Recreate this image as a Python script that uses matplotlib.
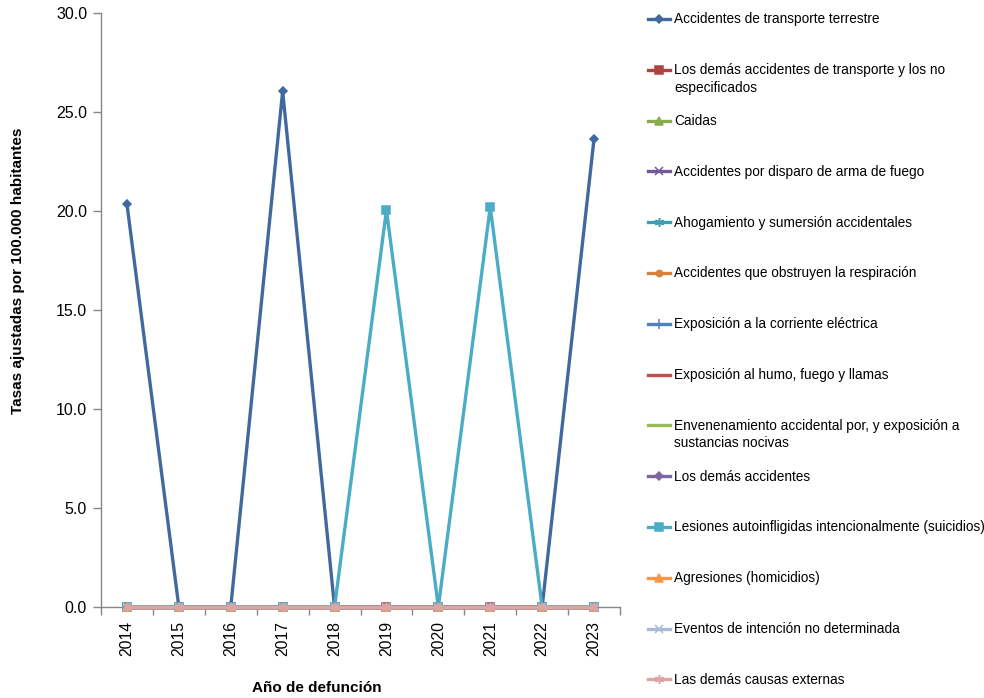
import matplotlib.pyplot as plt
from matplotlib.lines import Line2D
import numpy as np

# Data
years = ['2014', '2015', '2016', '2017', '2018', '2019', '2020', '2021', '2022', '2023']

series_names = [
    'Accidentes de transporte terrestre',
    'Los demás accidentes de transporte y los no\nespecificados',
    'Caidas',
    'Accidentes por disparo de arma de fuego',
    'Ahogamiento y sumersión accidentales',
    'Accidentes que obstruyen la respiración',
    'Exposición a la corriente eléctrica',
    'Exposición al humo, fuego y llamas',
    'Envenenamiento accidental por, y exposición a\nsustancias nocivas',
    'Los demás accidentes',
    'Lesiones autoinfligidas intencionalmente (suicidios)',
    'Agresiones (homicidios)',
    'Eventos de intención no determinada',
    'Las demás causas externas',
]

transporte_terrestre = [20.35, 0, 0, 26.05, 0, 0, 0, 0, 0, 23.65]
otros_transporte = [0, 0, 0, 0, 0, 0, 0, 0, 0, 0]
caidas = [0, 0, 0, 0, 0, 0, 0, 0, 0, 0]
disparo = [0, 0, 0, 0, 0, 0, 0, 0, 0, 0]
ahogamiento = [0, 0, 0, 0, 0, 0, 0, 0, 0, 0]
respiracion = [0, 0, 0, 0, 0, 0, 0, 0, 0, 0]
electrica = [0, 0, 0, 0, 0, 0, 0, 0, 0, 0]
humo = [0, 0, 0, 0, 0, 0, 0, 0, 0, 0]
envenenamiento = [0, 0, 0, 0, 0, 0, 0, 0, 0, 0]
demas_accidentes = [0, 0, 0, 0, 0, 0, 0, 0, 0, 0]
suicidios = [0, 0, 0, 0, 0, 20.05, 0, 20.2, 0, 0]
homicidios = [0, 0, 0, 0, 0, 0, 0, 0, 0, 0]
no_determinada = [0, 0, 0, 0, 0, 0, 0, 0, 0, 0]
demas_causas = [0, 0, 0, 0, 0, 0, 0, 0, 0, 0]

values = [transporte_terrestre, otros_transporte, caidas, disparo, ahogamiento,
          respiracion, electrica, humo, envenenamiento, demas_accidentes,
          suicidios, homicidios, no_determinada, demas_causas]

# Styles
asterisk = (6, 2, 0)
colors = ['#41699F', '#AC4542', '#8CAA4E', '#74599A', '#3E9DB5', '#D9813A',
          '#4F81BD', '#C0504D', '#9BBB59', '#8064A2', '#4BACC6', '#F79646',
          '#A9BAD9', '#DCA5A4']
markers = ['D', 's', '^', 'x', asterisk, 'o', '+', None, None, 'D', 's', '^',
           'x', asterisk]
msizes = [4, 5.5, 5.5, 5.5, 6.5, 4.5, 6.5, 0, 0, 4, 5.5, 5.5, 5.5, 6.5]

font = 'Liberation Sans'

fig = plt.figure(figsize=(9.84, 6.98), dpi=100)
ax = fig.add_axes([101 / 984, 1 - 607 / 698, 519 / 984, 594 / 698])

x = np.arange(len(years))
for name, vals, c, m, ms in zip(series_names, values, colors, markers, msizes):
    ax.plot(x, vals, color=c, lw=2.4, marker=m, markersize=ms,
            markeredgewidth=1.1, clip_on=False, zorder=3)

ax.set_xlim(-0.5, len(years) - 0.5)
ax.set_ylim(0, 30)
ax.set_yticks(np.arange(0, 30.1, 5))
ax.set_yticklabels([f'{v:.1f}' for v in np.arange(0, 30.1, 5)],
                   family=font, fontsize=11.5)
ax.set_xticks(x)
ax.set_xticklabels(years, rotation=90, family=font, fontsize=11.3)
ax.set_xticks(np.arange(-0.5, len(years)), minor=True)
ax.tick_params(axis='x', which='major', length=0, pad=10)
ax.tick_params(axis='x', which='minor', length=6, color='#868686', width=1)
ax.tick_params(axis='y', length=6, color='#868686', width=1, pad=4)

for side in ['top', 'right']:
    ax.spines[side].set_visible(False)
for side in ['left', 'bottom']:
    ax.spines[side].set_color('#868686')
    ax.spines[side].set_linewidth(1)

fig.text(18 / 984, 1 - 271 / 698, 'Tasas ajustadas por 100.000 habitantes',
         rotation=90, ha='center', va='center', family=font,
         fontweight='bold', fontsize=11)
fig.text(317 / 984, 1 - 688 / 698, 'Año de defunción', ha='center',
         va='center', family=font, fontweight='bold', fontsize=11)

# Legend drawn entry by entry on the right
for i, (name, c, m, ms) in enumerate(zip(series_names, colors, markers, msizes)):
    yc = 1 - (19 + i * 50.8) / 698
    fig.add_artist(Line2D([648 / 984, 670 / 984], [yc, yc], color=c, lw=2.4,
                          transform=fig.transFigure))
    if m is not None:
        fig.add_artist(Line2D([659 / 984], [yc], color=c, marker=m,
                              markersize=ms, markeredgewidth=1.1, lw=0,
                              transform=fig.transFigure))
    fig.text(674 / 984, yc + 6.5 / 698, name, ha='left', va='top',
             family=font, fontsize=9.8, linespacing=1.3)

plt.savefig('out.png', dpi=100)
